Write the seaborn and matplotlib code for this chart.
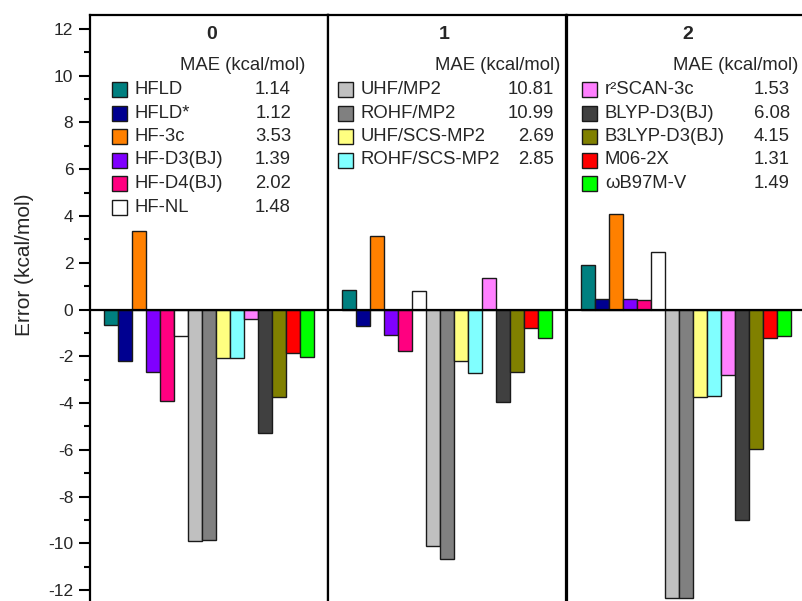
import numpy as np
import pandas as pd
import matplotlib
matplotlib.use("Agg")
import matplotlib.pyplot as plt
import seaborn as sns
from matplotlib.patches import Rectangle
from matplotlib.ticker import MultipleLocator

# ---------------- data ----------------
methods = ["HFLD", "HFLD*", "HF-3c", "HF-D3(BJ)", "HF-D4(BJ)", "HF-NL",
           "UHF/MP2", "ROHF/MP2", "UHF/SCS-MP2", "ROHF/SCS-MP2",
           "r²SCAN-3c", "BLYP-D3(BJ)", "B3LYP-D3(BJ)", "M06-2X", "ωB97M-V"]
colors = ["#008080", "#000090", "#FF8000", "#8000FF", "#FF0080", "#FFFFFF",
          "#C0C0C0", "#808080", "#FFFF80", "#80FFFF",
          "#FF80FF", "#404040", "#808000", "#FF0000", "#00FF00"]
mae = ["1.14", "1.12", "3.53", "1.39", "2.02", "1.48",
       "10.81", "10.99", "2.69", "2.85",
       "1.53", "6.08", "4.15", "1.31", "1.49"]
panel_titles = ["0", "1", "2"]
errors_0 = [-0.67, -2.21, 3.35, -2.65, -3.89, -1.15, -9.89, -9.84, -2.09, -2.09,
            -0.39, -5.26, -3.74, -1.86, -2.05]
errors_1 = [0.83, -0.69, 3.14, -1.08, -1.78, 0.79, -10.09, -10.67, -2.18, -2.70,
            1.33, -3.94, -2.67, -0.79, -1.22]
errors_2 = [1.91, 0.47, 4.09, 0.43, 0.39, 2.48, -12.35, -12.35, -3.73, -3.70,
            -2.82, -8.99, -5.98, -1.20, -1.12]
legend_groups = [methods[0:6], methods[6:10], methods[10:15]]
all_errors = [errors_0, errors_1, errors_2]

# ---------------- style ----------------
sns.set_style("ticks")
plt.rcParams["font.family"] = ["Liberation Sans", "DejaVu Sans"]
plt.rcParams["axes.unicode_minus"] = False

W, H = 803, 601
fig = plt.figure(figsize=(W / 100, H / 100), dpi=100)

def fx(x):
    return x / W

def fy(y):
    return 1 - y / H

palette = dict(zip(methods, colors))
panel_left = [90, 328, 567]
panel_w = 238
top_px = 15

# legend layout (pixels)
sw_x = [112, 338, 582]
txt_x = [135, 361, 605]
val_r = [291, 554, 790]
head_r = [305, 560, 798]
title_x = [212, 444, 688]
row0 = 89.5
row_dy = 23.5
sw = 15
fs = 13.3

for i, errs in enumerate(all_errors):
    ax = fig.add_axes([fx(panel_left[i]), 0, fx(panel_w), fy(top_px)])
    df = pd.DataFrame({"method": methods, "error": errs})
    sns.barplot(data=df, x="method", y="error", hue="method", palette=palette,
                order=methods, hue_order=methods, width=1, legend=False,
                edgecolor="#1a1a1a", linewidth=1.0, ax=ax, saturation=1)
    ax.set_xlim(-1.5, 15.5)
    ax.set_ylim(-12.46, 12.59)
    ax.axhline(0, color="black", lw=1.6, zorder=5)
    ax.set_xlabel("")
    ax.set_ylabel("")
    ax.set_xticks([])
    for s in ["left", "right", "top"]:
        ax.spines[s].set_linewidth(1.6)
        ax.spines[s].set_color("black")
    ax.spines["bottom"].set_visible(False)
    if i == 0:
        ax.yaxis.set_major_locator(MultipleLocator(2))
        ax.yaxis.set_minor_locator(MultipleLocator(1))
        ax.tick_params(axis="y", which="major", direction="out", length=8,
                       width=1.5, labelsize=12.5, pad=4, color="black")
        ax.tick_params(axis="y", which="minor", direction="out", length=4.5,
                       width=1.5, color="black")
    else:
        ax.tick_params(axis="y", which="both", left=False, labelleft=False)
    ax.set_facecolor("white")

    # panel title
    fig.text(fx(title_x[i]), fy(34.5), panel_titles[i], fontsize=14,
             fontweight="bold", ha="center", va="center")
    # legend header
    fig.text(fx(head_r[i]), fy(65), "MAE (kcal/mol)", fontsize=fs,
             ha="right", va="center")
    for j, m in enumerate(legend_groups[i]):
        yc = row0 + j * row_dy
        k = methods.index(m)
        fig.add_artist(Rectangle((fx(sw_x[i]), fy(yc + sw / 2)), fx(sw), sw / H,
                                 transform=fig.transFigure, facecolor=colors[k],
                                 edgecolor="#1a1a1a", linewidth=1.0))
        fig.text(fx(txt_x[i]), fy(yc), m, fontsize=fs, ha="left", va="center")
        fig.text(fx(val_r[i]), fy(yc), mae[k], fontsize=fs, ha="right",
                 va="center")

fig.text(fx(25), fy(265), "Error (kcal/mol)", fontsize=15, rotation=90,
         ha="center", va="center")

fig.savefig("out.png", dpi=100)
